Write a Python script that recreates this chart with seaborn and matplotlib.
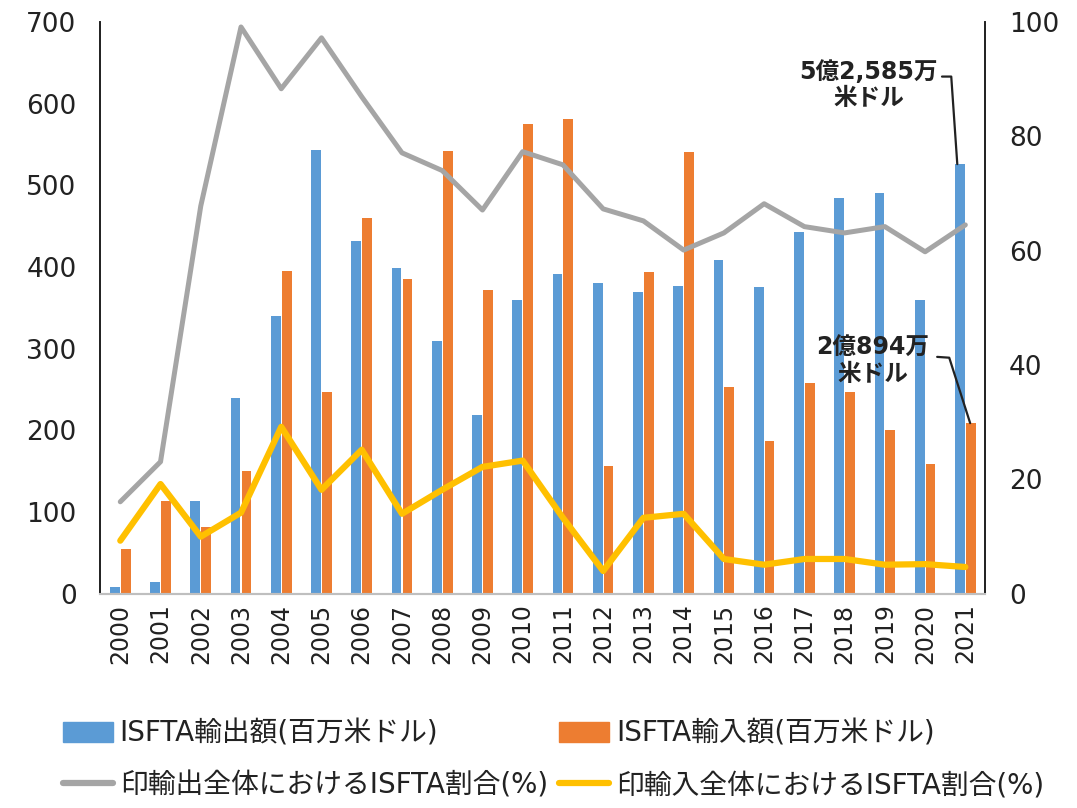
import numpy as np
import pandas as pd
import seaborn as sns
import matplotlib.pyplot as plt
from matplotlib.patches import Patch
from matplotlib.lines import Line2D

# データ
years = [str(y) for y in range(2000, 2022)]
export_musd = [8, 15, 114, 240, 340, 543, 432, 399, 310, 219, 360,
               392, 380, 370, 377, 408, 376, 443, 485, 490, 360, 525.85]
import_musd = [55, 114, 82, 150, 395, 247, 460, 385, 542, 372, 575,
               581, 157, 394, 541, 253, 187, 258, 247, 200, 159, 208.94]
export_share = [16.1, 23.1, 67.8, 99.1, 88.3, 97.2, 86.9, 77.1, 74.0, 67.1, 77.3,
                75.0, 67.3, 65.2, 60.1, 63.1, 68.2, 64.2, 63.1, 64.2, 59.8, 64.5]
import_share = [9.3, 19.2, 10.0, 14.2, 29.2, 18.2, 25.2, 14.0, 18.2, 22.2, 23.3,
                13.3, 4.0, 13.3, 14.0, 6.1, 5.1, 6.1, 6.1, 5.1, 5.2, 4.7]

lbl_exp = 'ISFTA輸出額(百万米ドル)'
lbl_imp = 'ISFTA輸入額(百万米ドル)'
lbl_exp_sh = '印輸出全体におけるISFTA割合(%)'
lbl_imp_sh = '印輸入全体におけるISFTA割合(%)'

c_blue, c_orange, c_gray, c_yellow = '#5B9BD5', '#ED7D31', '#A5A5A5', '#FFC000'

sns.set_theme(style='white')
plt.rcParams['font.family'] = ['DejaVu Sans', 'Noto Sans CJK JP']

df = pd.DataFrame({'year': years * 2,
                   'value': export_musd + import_musd,
                   'kind': [lbl_exp] * len(years) + [lbl_imp] * len(years)})

fig = plt.figure(figsize=(10.77, 8.08), dpi=100)
ax = fig.add_axes([0.093, 0.265, 0.822, 0.708])

sns.barplot(data=df, x='year', y='value', hue='kind', order=years,
            palette=[c_blue, c_orange], saturation=1, width=0.54, gap=0.1,
            linewidth=0, legend=False, ax=ax)
ax.set_ylim(0, 700)
ax.set_yticks(range(0, 701, 100))
ax.set_xlim(-0.5, len(years) - 0.5)
ax.set_xlabel('')
ax.set_ylabel('')
ax.tick_params(axis='x', rotation=90, labelsize=17, length=0, colors='#222222', pad=7)
ax.tick_params(axis='y', labelsize=19, length=0, colors='#222222', pad=17)

ax2 = ax.twinx()
xpos = np.arange(len(years))
sns.lineplot(x=xpos, y=export_share, color=c_gray, linewidth=3.6, ax=ax2)
sns.lineplot(x=xpos, y=import_share, color=c_yellow, linewidth=4.5, ax=ax2)
ax2.set_ylim(0, 100)
ax2.set_yticks(range(0, 101, 20))
ax2.tick_params(axis='y', labelsize=19, length=0, colors='#222222', pad=17)
ax2.set_xlim(-0.5, len(years) - 0.5)

for a in (ax, ax2):
    a.spines['top'].set_visible(False)
    a.spines['left'].set_color('#222222')
    a.spines['right'].set_color('#222222')
    a.spines['bottom'].set_color('#BFBFBF')
    a.spines['bottom'].set_linewidth(1.5)

# 注記
ann_kw = dict(ha='center', va='center', fontsize=17, fontweight='bold', color='#222222',
              linespacing=1.1)
ax.text(18.6, 623, '5億2,585万\n米ドル', **ann_kw)
ax.text(18.7, 285, '2億894万\n米ドル', **ann_kw)
line_kw = dict(color='#222222', linewidth=1.6)
ax.plot([20.42, 20.65, 20.80], [633, 633, export_musd[-1]], **line_kw)
ax.plot([20.3, 20.6, 21.12], [290, 289, import_musd[-1]], **line_kw)

handles = [Patch(color=c_blue, label=lbl_exp),
           Line2D([], [], color=c_gray, linewidth=4.5, label=lbl_exp_sh),
           Patch(color=c_orange, label=lbl_imp),
           Line2D([], [], color=c_yellow, linewidth=4.5, label=lbl_imp_sh)]
fig.legend(handles=handles, ncol=2, loc='lower left', bbox_to_anchor=(0.035, -0.02),
           frameon=False, fontsize=20, handlelength=1.8, handleheight=0.7,
           handletextpad=0.25, columnspacing=0.4, labelspacing=0.85,
           labelcolor='#222222')

fig.savefig('out.png', dpi=100)
